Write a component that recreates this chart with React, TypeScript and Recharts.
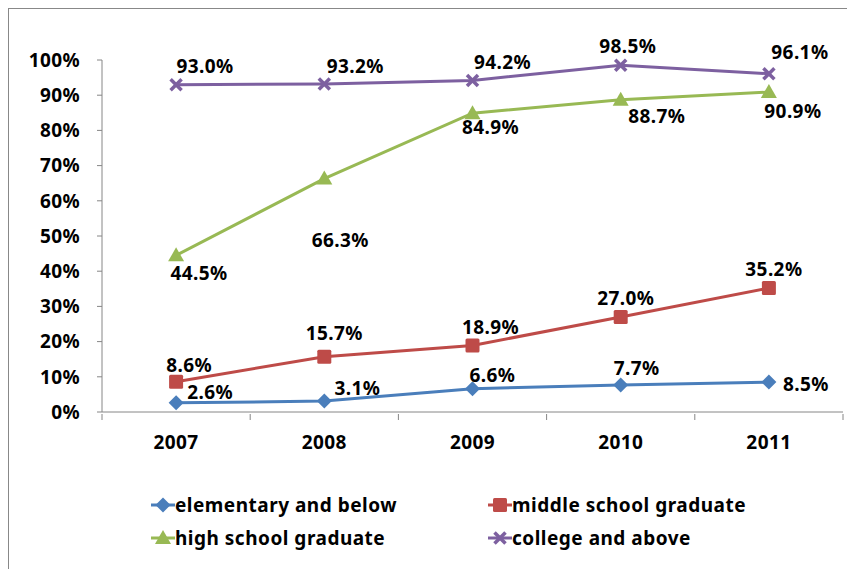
import React from "react"
import { LineChart, Line, XAxis, YAxis } from "recharts"

const years = ["2007", "2008", "2009", "2010", "2011"]
const elementary = [2.6, 3.1, 6.6, 7.7, 8.5]
const middle = [8.6, 15.7, 18.9, 27.0, 35.2]
const high = [44.5, 66.3, 84.9, 88.7, 90.9]
const college = [93.0, 93.2, 94.2, 98.5, 96.1]
const yTicks = [0, 10, 20, 30, 40, 50, 60, 70, 80, 90, 100]

const data = years.map((year, i) => ({
    year,
    elementary: elementary[i],
    middle: middle[i],
    high: high[i],
    college: college[i],
}))

const FONT = "'Noto Sans', sans-serif"
const AXIS = "#868686"
const PLOT_W = 741
const BAND = PLOT_W / years.length
const TEXT = { fontFamily: FONT, fontWeight: "bold", fontSize: 19, letterSpacing: 0.4 }

// where each value label sits relative to its point (Excel placed them by hand-ish)
const labelNudge: Record<string, [number, number][]> = {
    elementary: [[34, -11], [33, -13], [20, -14], [16, -17], [37, 2]],
    middle: [[13, -17], [10, -24], [18, -18], [5, -19], [5, -19]],
    high: [[23, 18], [16, 61], [18, 14], [36, 16], [24, 19]],
    college: [[29, -19], [31, -18], [30, -18], [7, -19], [31, -22]],
}

const series = [
    { key: "elementary", name: "elementary and below", color: "#4A7EBB", shape: "diamond" },
    { key: "middle", name: "middle school graduate", color: "#BE4B48", shape: "square" },
    { key: "high", name: "high school graduate", color: "#98B954", shape: "triangle" },
    { key: "college", name: "college and above", color: "#7D60A0", shape: "cross" },
]

function Marker({ shape, color, cx, cy }: { shape: string; color: string; cx: number; cy: number }) {
    if (shape === "diamond") {
        return <path d={`M${cx},${cy - 7.5} L${cx + 7.5},${cy} L${cx},${cy + 7.5} L${cx - 7.5},${cy} Z`} fill={color} />
    }
    if (shape === "square") {
        return <rect x={cx - 7} y={cy - 7} width={14} height={14} rx={1.5} fill={color} />
    }
    if (shape === "triangle") {
        return <path d={`M${cx},${cy - 8} L${cx + 8},${cy + 6} L${cx - 8},${cy + 6} Z`} fill={color} />
    }
    return (
        <g stroke={color} strokeWidth={3.5}>
            <line x1={cx - 5.5} y1={cy - 5.5} x2={cx + 5.5} y2={cy + 5.5} />
            <line x1={cx - 5.5} y1={cy + 5.5} x2={cx + 5.5} y2={cy - 5.5} />
        </g>
    )
}

function XTick(props: any) {
    const { x, y, payload, index } = props
    return (
        <g>
            <line x1={x - BAND / 2} y1={y} x2={x - BAND / 2} y2={y + 6} stroke={AXIS} />
            {index === years.length - 1 && (
                <line x1={x + BAND / 2} y1={y} x2={x + BAND / 2} y2={y + 6} stroke={AXIS} />
            )}
            <text x={x} y={y + 35} textAnchor="middle" fill="#000" {...TEXT}>
                {payload.value}
            </text>
        </g>
    )
}

function LegendRow() {
    return (
        <div
            style={{
                position: "absolute",
                left: 142,
                top: 483,
                display: "grid",
                gridTemplateColumns: "337px 330px",
                rowGap: 8,
                color: "#000",
                ...TEXT,
                letterSpacing: 0.5,
            }}
        >
            {series.map((s) => (
                <div key={s.key} style={{ display: "flex", alignItems: "center", height: 25 }}>
                    <svg width={24} height={20} style={{ marginRight: 0 }}>
                        <line x1={0} y1={10} x2={24} y2={10} stroke={s.color} strokeWidth={3} />
                        <Marker shape={s.shape} color={s.color} cx={12} cy={10} />
                    </svg>
                    <span>{s.name}</span>
                </div>
            ))}
        </div>
    )
}

export default function App() {
    return (
        <div
            style={{
                position: "relative",
                width: 846,
                height: 570,
                borderTop: "1px solid #888",
                borderLeft: "1px solid #888",
                background: "#fff",
            }}
        >
            <LineChart
                width={846}
                height={560}
                data={data}
                margin={{ top: 51, right: 12, left: 0, bottom: 117 }}
            >
                <XAxis
                    dataKey="year"
                    stroke={AXIS}
                    tickLine={false}
                    tickSize={0}
                    height={40}
                    padding={{ left: BAND / 2, right: BAND / 2 }}
                    tick={<XTick />}
                    interval={0}
                />
                <YAxis
                    domain={[0, 100]}
                    ticks={yTicks}
                    width={93}
                    stroke={AXIS}
                    tickSize={5}
                    tickMargin={17}
                    tickFormatter={(v) => `${v}%`}
                    tick={{ fill: "#000", ...TEXT }}
                    interval={0}
                />
                {series.map((s) => (
                    <Line
                        key={s.key}
                        dataKey={s.key}
                        name={s.name}
                        stroke={s.color}
                        strokeWidth={3}
                        isAnimationActive={false}
                        dot={(p: any) => (
                            <Marker key={`${s.key}-${p.index}`} shape={s.shape} color={s.color} cx={p.cx} cy={p.cy} />
                        )}
                        activeDot={false}
                        label={(p: any) => {
                            const [dx, dy] = labelNudge[s.key][p.index]
                            return (
                                <text
                                    key={`${s.key}-l-${p.index}`}
                                    x={p.x + dx}
                                    y={p.y + dy}
                                    textAnchor="middle"
                                    dominantBaseline="central"
                                    fill="#000"
                                    {...TEXT}
                                >
                                    {`${Number(p.value).toFixed(1)}%`}
                                </text>
                            )
                        }}
                    />
                ))}
            </LineChart>
            <LegendRow />
        </div>
    )
}
